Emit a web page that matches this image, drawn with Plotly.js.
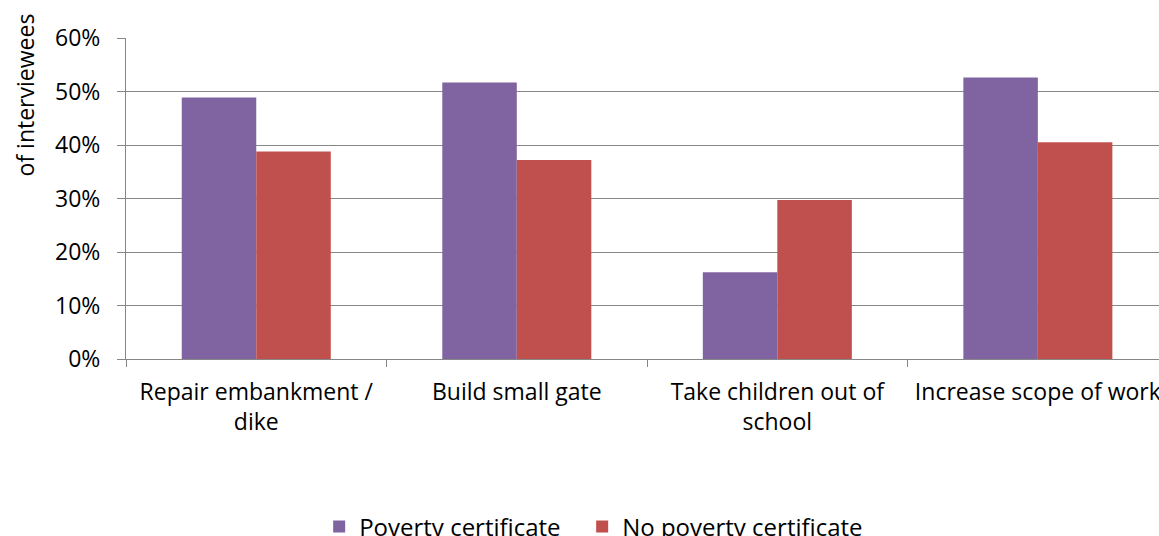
<!DOCTYPE html>
<html>
<head>
<meta charset="utf-8">
<script src="https://cdn.plot.ly/plotly-3.0.1.min.js"></script>
<style>html,body{margin:0;padding:0;background:#fff;overflow:hidden;width:1159px;height:536px}#chart{width:1159px;height:580px}</style>
</head>
<body>
<div id="chart"></div>
<script>
const categories = ["Repair embankment /<br>dike", "Build small gate", "Take children out of<br>school", "Increase scope of work"];
const povertyCertificate = [48.9, 51.7, 16.2, 52.6];
const noPovertyCertificate = [38.8, 37.2, 29.7, 40.5];
const seriesNames = ["Poverty certificate", "No poverty certificate"];
const yTitle = "of interviewees";

const font = {family: "Open Sans, sans-serif", size: 23, color: "#000"};
const legendFont = {family: "Open Sans, sans-serif", size: 24, color: "#000"};
const gray = "#878787";

const traces = [
  {type: "bar", x: categories, y: povertyCertificate, name: seriesNames[0],
   marker: {color: "#8064A2"}, hoverinfo: "y", legendwidth: 218},
  {type: "bar", x: categories, y: noPovertyCertificate, name: seriesNames[1],
   marker: {color: "#C0504D"}, hoverinfo: "y"}
];

const layout = {
  width: 1159, height: 580,
  margin: {l: 126, r: 0, t: 38, b: 221, pad: 0},
  paper_bgcolor: "#fff", plot_bgcolor: "#fff",
  font: font,
  barmode: "group", bargap: 0.428, bargroupgap: 0,
  xaxis: {
    type: "category", range: [-0.5, 3.465], tickson: "boundaries",
    ticks: "outside", ticklen: 7, tickcolor: gray, tickwidth: 1,
    showline: true, linecolor: gray, linewidth: 1,
    showgrid: false, tickfont: font, ticklabelstandoff: 12, fixedrange: true
  },
  yaxis: {
    range: [0, 60], dtick: 10, ticksuffix: "%",
    ticks: "outside", ticklen: 8, tickcolor: gray, tickwidth: 1,
    showline: true, linecolor: gray, linewidth: 1,
    showgrid: true, gridcolor: gray, gridwidth: 1,
    zeroline: false, tickfont: font, ticklabelstandoff: 12, fixedrange: true
  },
  legend: {
    orientation: "h", x: 0.187, xanchor: "left", y: -0.453, yanchor: "top",
    font: legendFont, traceorder: "normal"
  },
  annotations: [{
    text: yTitle, textangle: -90, xref: "paper", yref: "paper",
    x: 0, y: 0.821, xanchor: "center", yanchor: "middle", xshift: -101,
    showarrow: false, font: font
  }]
};

Plotly.newPlot("chart", traces, layout, {displayModeBar: false, staticPlot: true});
</script>
</body>
</html>
